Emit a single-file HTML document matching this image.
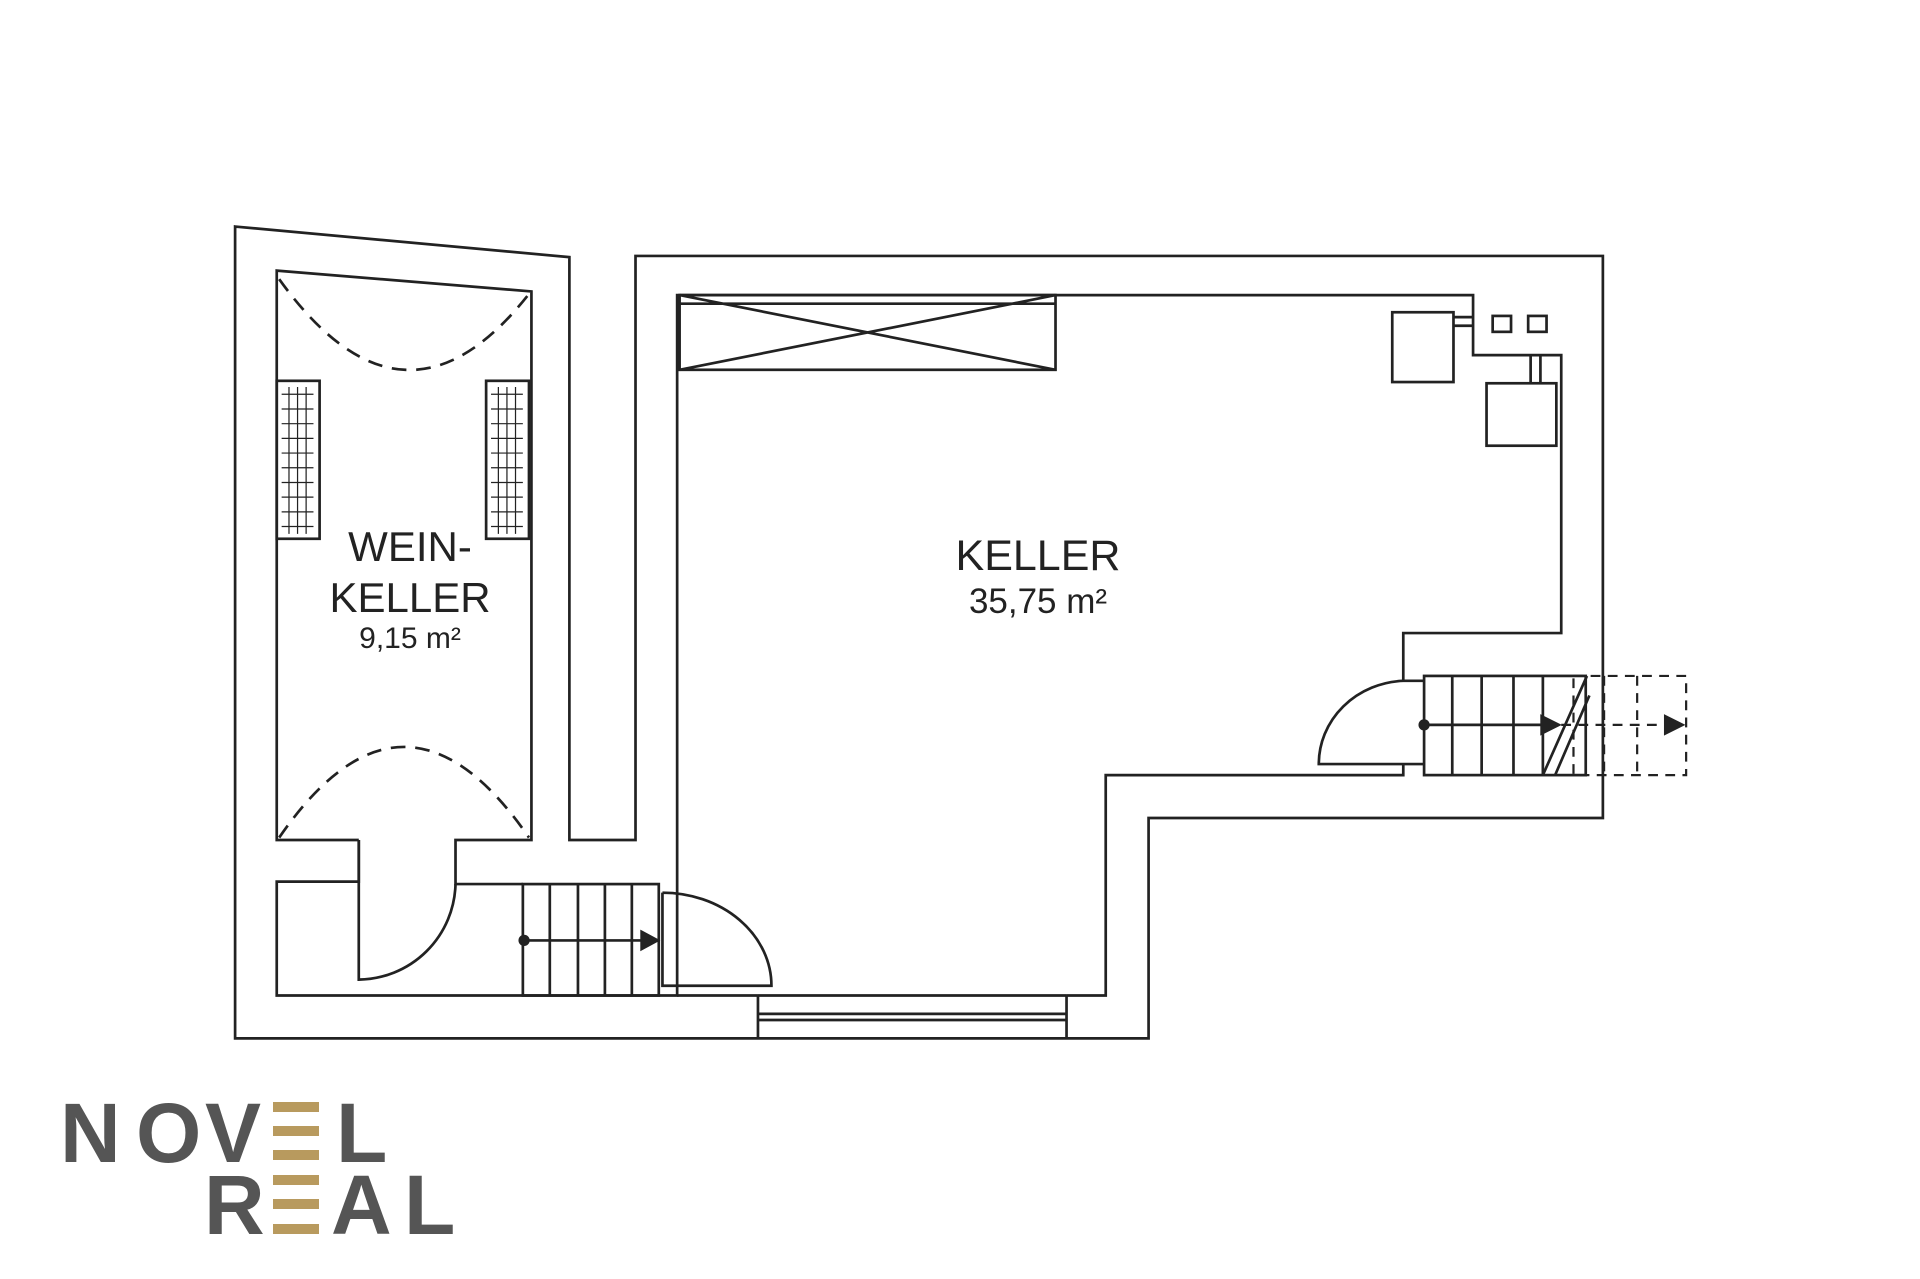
<!DOCTYPE html>
<html><head><meta charset="utf-8"><style>html,body{margin:0;padding:0;background:#fff}svg{display:block}</style></head>
<body>
<svg width="1920" height="1279" viewBox="0 0 1920 1279" xmlns="http://www.w3.org/2000/svg">
<g transform="scale(1.2245)" fill="none" stroke="#222" stroke-width="2.2">
<path d="M192,185 L465,210 L465,686 L519,686 L519,209 L1309,209 L1309,668 L938,668 L938,848 L192,848 Z"/>
<path d="M293,686 L226,686 L226,221 L434,238 L434,686 L372,686 L372,722 L427,722"/>
<path d="M293,686 L293,720 L226,720 L226,813 L553,813 L553,241 L1203,241 L1203,290 L1275,290 L1275,517 L1146,517 L1146,556"/>
<path d="M1146,624 L1146,633 L903,633 L903,813 L871,813"/>
<path d="M553,813 L619,813"/>
<path d="M619,813 L871,813 M619,828 L871,828 M619,833 L871,833 M619,813 L619,848 M871,813 L871,848"/>
<rect x="555" y="241" width="307" height="61"/>
<path d="M555,302 L862,241 M555,241 L862,302 M555,248 L862,248"/>
<path d="M228,228 Q330,370 432,240" stroke-dasharray="12,8"/>
<path d="M228,684 Q330,536 432,684" stroke-dasharray="12,8"/>
<rect x="226" y="311" width="35" height="129"/>
<rect x="397" y="311" width="35" height="129"/>
<g stroke-width="1">
<path d="M230,322 h26 M230,334 h26 M230,346 h26 M230,358 h26 M230,370 h26 M230,382 h26 M230,394 h26 M230,406 h26 M230,418 h26 M230,430 h26"/>
<path d="M401,322 h26 M401,334 h26 M401,346 h26 M401,358 h26 M401,370 h26 M401,382 h26 M401,394 h26 M401,406 h26 M401,418 h26 M401,430 h26"/>
<path d="M236,316 v120 M243,316 v120 M250,316 v120 M407,316 v120 M414,316 v120 M421,316 v120"/>
</g>
<path d="M293,686 L293,800 A80,80 0 0 0 372,722"/>
<rect x="427" y="722" width="111" height="91"/>
<path d="M449,722 v91 M472,722 v91 M494,722 v91 M516,722 v91 M428,768 L525,768"/>
<polygon points="524,761 537,768 524,775" fill="#222"/>
<circle cx="428" cy="768" r="3.5" fill="#222"/>
<path d="M541,729 L541,805 L630,805 A89,76 0 0 0 541,729"/>
<rect x="1137" y="255" width="50" height="57"/>
<path d="M1187,259 h16 M1187,266 h16"/>
<rect x="1219" y="258" width="15" height="13"/>
<rect x="1248" y="258" width="15" height="13"/>
<rect x="1214" y="313" width="57" height="51"/>
<path d="M1250,290 v23 M1258,290 v23"/>
<path d="M1146,556 L1163,556 M1146,624 L1077,624 A72,68 0 0 1 1146,556 M1146,624 L1163,624"/>
<rect x="1163" y="552" width="132" height="81"/>
<path d="M1186,552 v81 M1210,552 v81 M1236,552 v81 M1260,552 v81 M1163,592 L1262,592"/>
<polygon points="1259,585 1273,592 1259,599" fill="#222"/>
<circle cx="1163" cy="592" r="3.5" fill="#222"/>
<path d="M1260,633 L1296,552 M1270,633 L1298,568"/>
<g stroke-dasharray="8,6" stroke-width="1.8">
<rect x="1285" y="552" width="92" height="81"/>
<path d="M1310,552 v81 M1337,552 v81 M1275,592 L1362,592"/>
</g>
<polygon points="1360,585 1374,592 1360,599" fill="#222"/>
</g>
<g font-family="Liberation Sans, sans-serif" fill="#222" text-anchor="middle">
<text x="410" y="561" font-size="42">WEIN-</text>
<text x="410" y="612" font-size="42">KELLER</text>
<text x="410" y="648" font-size="30">9,15 m²</text>
<text x="1038" y="570" font-size="43">KELLER</text>
<text x="1038" y="613" font-size="35">35,75 m²</text>
</g>
<g font-family="Liberation Sans, sans-serif" font-weight="bold" font-size="84" fill="#555">
<text x="60" y="1162">N</text>
<text x="136" y="1162">O</text>
<text x="205" y="1162">V</text>
<text x="336" y="1162">L</text>
<text x="204" y="1234">R</text>
<text x="331" y="1234">A</text>
<text x="404" y="1234">L</text>
</g>
<g fill="#b89a5e">
<rect x="273" y="1102" width="46" height="10"/>
<rect x="273" y="1126" width="46" height="10"/>
<rect x="273" y="1150" width="46" height="10"/>
<rect x="273" y="1175" width="46" height="10"/>
<rect x="273" y="1199" width="46" height="10"/>
<rect x="273" y="1224" width="46" height="10"/>
</g>
</svg>
</body></html>
